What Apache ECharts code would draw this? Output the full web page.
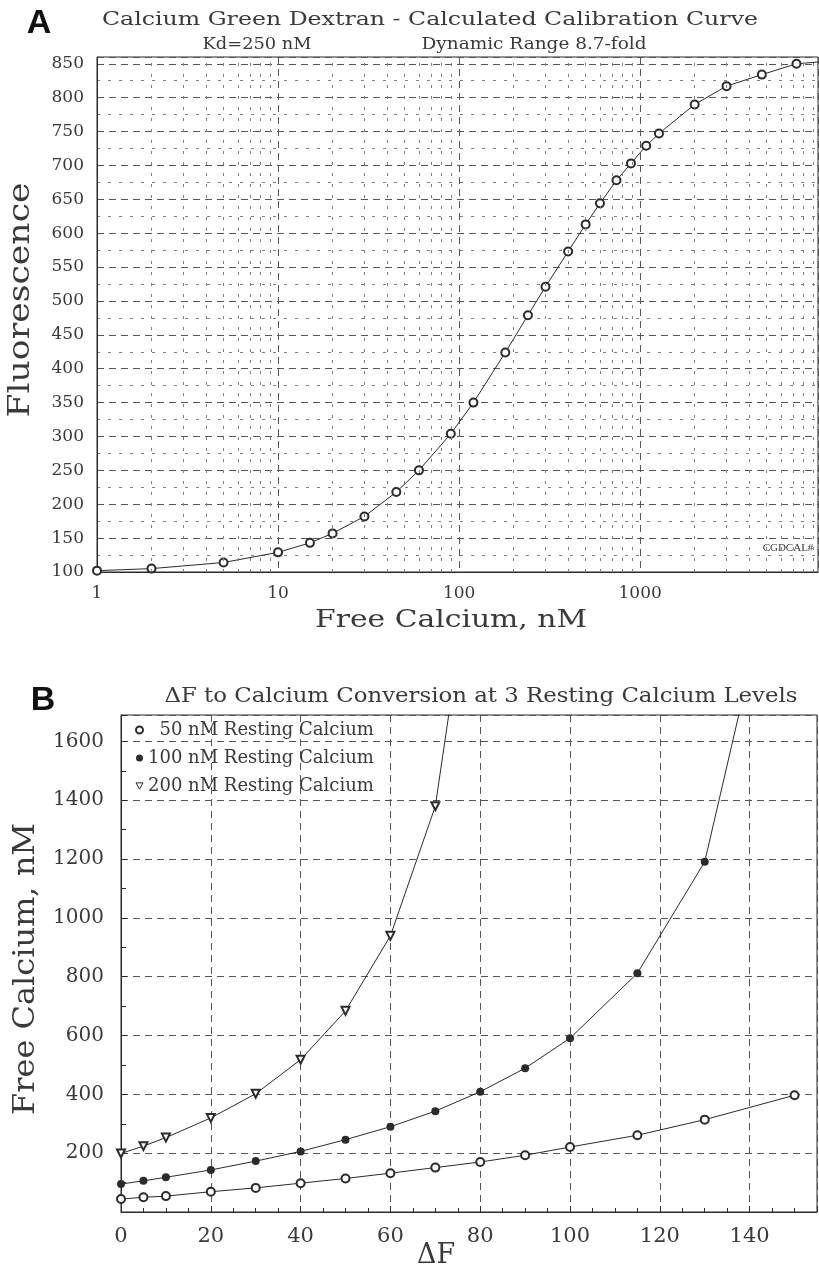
<!DOCTYPE html>
<html>
<head>
<meta charset="utf-8">
<script src="https://cdn.jsdelivr.net/npm/echarts@6/dist/echarts.min.js"></script>
<style>
  html, body { margin: 0; padding: 0; background: #fff; }
  #chart { width: 819px; height: 1271px; }
</style>
</head>
<body>
<div id="chart"></div>
<script>
// Panel A: calibration curve of Calcium Green Dextran
const calibCalcium = [1, 2, 5, 10, 15, 20, 30, 45, 60, 90, 120, 180, 240, 300, 400, 500, 600, 740, 890, 1080, 1270, 2000, 3000, 4700, 7300, 10000];
const calibFluor   = [102, 105, 114, 129, 143, 157, 182, 218, 250, 304, 350, 424, 479, 521, 573, 613, 644, 678, 703, 729, 747, 790, 817, 834, 850, 853];
// Intermediate log-decade gridlines
const calibMinorGrid = [2, 3, 4, 5, 6, 7, 8, 9, 20, 30, 40, 50, 60, 70, 80, 90,
  200, 300, 400, 500, 600, 700, 800, 900, 2000, 3000, 4000, 5000, 6000, 7000, 8000, 9000];

// Panel B: delta-F to calcium conversion at three resting levels
const restNames = ['50 nM Resting Calcium', '100 nM Resting Calcium', '200 nM Resting Calcium'];
const dF50  = [0, 5, 10, 20, 30, 40, 50, 60, 70, 80, 90, 100, 115, 130, 150];
const ca50  = [44, 50, 54, 69, 82, 98, 114, 132, 151, 170, 193, 221, 261, 314, 397];
const dF100 = [0, 5, 10, 20, 30, 40, 50, 60, 70, 80, 90, 100, 115, 130, 140];
const ca100 = [95, 106, 118, 143, 173, 206, 246, 290, 343, 409, 489, 591, 812, 1191, 1850];
const dF200 = [0, 5, 10, 20, 30, 40, 50, 60, 70, 75];
const ca200 = [199, 224, 253, 320, 402, 518, 684, 939, 1380, 1900];

const SERIF = '"DejaVu Serif", "Liberation Serif", serif';
const INK = '#2b2b2b';
const TXT = '#3a3a3a';
const zip = (xs, ys) => xs.map((x, i) => [x, ys[i]]);
const plain = v => String(Math.round(v));

// Horizontal stretch factor so a text run spans a given width
const measureCtx = document.createElement('canvas').getContext('2d');
function stretch(text, font, width) {
  measureCtx.font = font;
  return width / measureCtx.measureText(text).width;
}
function label(text, x, y, size, width, rotated) {
  const font = size + 'px ' + SERIF;
  return {
    type: 'text', x: x, y: y,
    rotation: rotated ? Math.PI / 2 : 0,
    scaleX: stretch(text, font, width), scaleY: 1,
    style: { text: text, fill: TXT, font: font, align: 'center', verticalAlign: 'middle' }
  };
}

const chart = echarts.init(document.getElementById('chart'), null, { renderer: 'canvas' });

const majorDash = { color: '#555', width: 1, type: [7, 5] };
const minorDash = { color: '#808080', width: 1, type: [3, 8] };

const option = {
  animation: false,
  backgroundColor: '#fff',
  grid: [
    { left: 97, top: 57, width: 721, height: 515, show: true, borderColor: INK, borderWidth: 1, backgroundColor: 'transparent' },
    { left: 121, top: 715, width: 696, height: 497, show: true, borderColor: INK, borderWidth: 1, backgroundColor: 'transparent' }
  ],
  xAxis: [
    {
      type: 'log', logBase: 10, gridIndex: 0, min: 1, max: 9600,
      axisLine: { lineStyle: { color: INK } },
      axisTick: { show: false },
      axisLabel: { fontFamily: SERIF, fontSize: 17, color: TXT, margin: 13, showMaxLabel: false, formatter: plain },
      splitLine: { show: true, lineStyle: majorDash }
    },
    {
      type: 'value', gridIndex: 1, min: 0, max: 155, interval: 20,
      axisLine: { lineStyle: { color: INK } },
      axisTick: { show: true, inside: true, length: 6, lineStyle: { color: INK } },
      minorTick: { show: true, splitNumber: 4, length: 4, lineStyle: { color: INK } },
      axisLabel: { fontFamily: SERIF, fontSize: 21, color: TXT, margin: 14, showMaxLabel: false, formatter: plain },
      splitLine: { show: true, lineStyle: majorDash }
    }
  ],
  yAxis: [
    {
      type: 'value', gridIndex: 0, min: 100, max: 860, interval: 50,
      axisLine: { show: true, lineStyle: { color: INK } },
      axisTick: { show: false },
      minorTick: { show: false, splitNumber: 2 },
      axisLabel: { fontFamily: SERIF, fontSize: 17, color: TXT, margin: 13, showMaxLabel: false, formatter: plain },
      splitLine: { show: true, lineStyle: majorDash },
      minorSplitLine: { show: true, lineStyle: minorDash }
    },
    {
      type: 'value', gridIndex: 1, min: 0, max: 1690, interval: 200,
      axisLine: { show: true, lineStyle: { color: INK } },
      axisTick: { show: true, inside: true, length: 6, lineStyle: { color: INK } },
      minorTick: { show: true, splitNumber: 2, length: 5, lineStyle: { color: INK } },
      axisLabel: { fontFamily: SERIF, fontSize: 20, color: TXT, margin: 17, showMinLabel: false, showMaxLabel: false, formatter: plain },
      splitLine: { show: true, lineStyle: majorDash }
    }
  ],
  legend: {
    orient: 'vertical', left: 130, top: 716,
    itemWidth: 7, itemHeight: 7, itemGap: 10,
    selectedMode: false,
    formatter: name => name.replace(/^(\d+)/, s => s.padStart(3, '\u2007')),
    textStyle: { fontFamily: SERIF, fontSize: 18, color: TXT, lineHeight: 18 },
    data: [
      { name: restNames[0], icon: 'emptyCircle' },
      { name: restNames[1], icon: 'circle' },
      { name: restNames[2], icon: 'path://M0,0L10,0L5,9Z', itemStyle: { color: '#fff', borderColor: INK, borderWidth: 1 } }
    ]
  },
  series: [
    {
      name: 'calibration', type: 'line', xAxisIndex: 0, yAxisIndex: 0,
      data: zip(calibCalcium, calibFluor),
      symbol: 'emptyCircle', symbolSize: 8,
      lineStyle: { color: INK, width: 1 },
      itemStyle: { color: INK, borderWidth: 1 },
      clip: true,
      markLine: {
        silent: true, symbol: ['none', 'none'],
        label: { show: false },
        lineStyle: minorDash,
        data: calibMinorGrid.map(v => ({ xAxis: v }))
      }
    },
    {
      name: restNames[0], type: 'line', xAxisIndex: 1, yAxisIndex: 1,
      data: zip(dF50, ca50),
      symbol: 'emptyCircle', symbolSize: 8,
      lineStyle: { color: INK, width: 1 },
      itemStyle: { color: INK, borderWidth: 1 },
      clip: true
    },
    {
      name: restNames[1], type: 'line', xAxisIndex: 1, yAxisIndex: 1,
      data: zip(dF100, ca100),
      symbol: 'circle', symbolSize: 8,
      lineStyle: { color: INK, width: 1 },
      itemStyle: { color: INK },
      clip: true
    },
    {
      name: restNames[2], type: 'line', xAxisIndex: 1, yAxisIndex: 1,
      data: zip(dF200, ca200),
      symbol: 'emptyTriangle', symbolSize: 8, symbolRotate: 180,
      lineStyle: { color: INK, width: 1 },
      itemStyle: { color: INK, borderWidth: 1 },
      clip: true
    }
  ],
  graphic: [
    { type: 'text', x: 39, y: 24, style: { text: 'A', fill: '#111', font: 'bold 34px "Liberation Sans", Arial, sans-serif', align: 'center', verticalAlign: 'middle' } },
    label('Calcium Green Dextran - Calculated Calibration Curve', 430, 20, 19, 656),
    label('Kd=250 nM', 257, 45, 17, 109),
    label('Dynamic Range 8.7-fold', 534, 45, 17, 225),
    label('Fluorescence', 21, 300, 30, 235, true),
    label('Free Calcium, nM', 451, 620, 25, 272),
    { type: 'text', x: 788, y: 548, style: { text: 'CGDCAL#', fill: TXT, font: '11px "Liberation Serif", serif', align: 'center', verticalAlign: 'middle' } },

    { type: 'text', x: 43, y: 701, style: { text: 'B', fill: '#111', font: 'bold 34px "Liberation Sans", Arial, sans-serif', align: 'center', verticalAlign: 'middle' } },
    label('ΔF to Calcium Conversion at 3 Resting Calcium Levels', 481, 697, 21, 633),
    label('Free Calcium, nM', 26, 969, 30, 292, true),
    label('ΔF', 436, 1256, 27, 38)
  ]
};

chart.setOption(option);
</script>
</body>
</html>
